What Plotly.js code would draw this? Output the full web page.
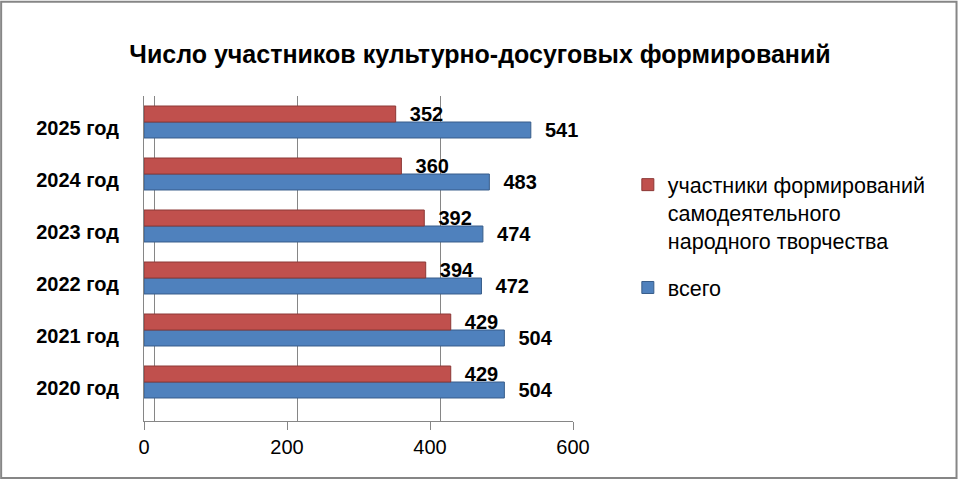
<!DOCTYPE html>
<html>
<head>
<meta charset="utf-8">
<script src="https://cdn.plot.ly/plotly-3.0.1.min.js"></script>
<style>
  body { margin: 0; background: #fff; }
  #chart { width: 960px; height: 480px; }
</style>
</head>
<body>
<div id="chart"></div>
<script>
// годы (снизу вверх)
var years = ['2020 год', '2021 год', '2022 год', '2023 год', '2024 год', '2025 год'];
// всего
var totalValues = [504, 504, 472, 474, 483, 541];
// участники формирований самодеятельного народного творчества
var amateurValues = [429, 429, 394, 392, 360, 352];
var xTicks = [0, 200, 400, 600];

var FONT = 'Liberation Sans, Arial, sans-serif';
var labelFont = {family: FONT, size: 20, color: '#000', weight: 'bold'};

var totalTrace = {
  type: 'bar',
  orientation: 'h',
  name: 'всего',
  legendgroup: 'total',
  legendrank: 2,
  y: years,
  x: totalValues,
  texttemplate: '  %{x}',
  textposition: 'outside',
  constraintext: 'none',
  textfont: labelFont,
  cliponaxis: false,
  marker: {color: '#4F81BD', line: {color: '#385D8A', width: 1}},
  hoverinfo: 'x+y'
};

var amateurTrace = {
  type: 'bar',
  orientation: 'h',
  name: 'участники формирований<br>самодеятельного<br>народного творчества',
  legendgroup: 'amateur',
  legendrank: 1,
  y: years,
  x: amateurValues,
  texttemplate: '  %{x}',
  textposition: 'outside',
  constraintext: 'none',
  textfont: labelFont,
  cliponaxis: false,
  marker: {color: '#C0504D', line: {color: '#8C3836', width: 1}},
  hoverinfo: 'x+y'
};

var layout = {
  width: 960,
  height: 480,
  margin: {l: 144, r: 387, t: 96, b: 59},
  paper_bgcolor: '#fff',
  plot_bgcolor: 'rgba(0,0,0,0)',
  barmode: 'group',
  bargap: 0.385,
  bargroupgap: 0,
  showlegend: true,
  title: {
    text: '<b>Число участников культурно-досуговых формирований</b>',
    font: {family: FONT, size: 25, color: '#000'},
    x: 0.5,
    xref: 'container',
    y: 0.888,
    yref: 'container',
    yanchor: 'middle'
  },
  xaxis: {
    range: [0, 600],
    tickvals: xTicks,
    ticks: 'outside',
    ticklen: 8,
    tickcolor: '#868686',
    showline: true,
    linecolor: '#868686',
    showgrid: false,
    zeroline: false,
    tickfont: {family: FONT, size: 20, color: '#000'},
    ticklabelstandoff: 0,
    fixedrange: true
  },
  // задняя стенка: сетка, сдвинутая вглубь
  xaxis2: {
    overlaying: 'x',
    side: 'top',
    range: [-15, 585],
    tickvals: xTicks,
    showticklabels: false,
    ticks: '',
    showline: false,
    showgrid: true,
    gridcolor: '#868686',
    gridwidth: 1,
    zeroline: false,
    fixedrange: true
  },
  yaxis: {
    type: 'category',
    range: [-0.75, 5.5],
    showline: true,
    linecolor: '#868686',
    showgrid: false,
    showticklabels: false,
    ticks: '',
    fixedrange: true
  },
  // подписи годов на передней плоскости (чуть ниже столбцов)
  yaxis2: {
    type: 'category',
    overlaying: 'y',
    side: 'left',
    categoryorder: 'array',
    categoryarray: years,
    range: [-0.635, 5.615],
    showline: false,
    showgrid: false,
    zeroline: false,
    ticks: '',
    ticklabelstandoff: 24,
    tickfont: {family: FONT, size: 20, color: '#000', weight: 'bold'},
    fixedrange: true
  },
  legend: {
    xref: 'container',
    yref: 'container',
    x: 0.654,
    y: 0.658,
    xanchor: 'left',
    yanchor: 'top',
    valign: 'top',
    traceorder: 'grouped',
    tracegroupgap: 16,
    font: {family: FONT, size: 21.5, color: '#000'},
    itemwidth: 30
  },
  shapes: [{
    type: 'rect',
    xref: 'paper', yref: 'paper',
    x0: -0.333, x1: 1.894, y0: -0.175, y1: 1.29,
    line: {color: '#868686', width: 2},
    fillcolor: 'rgba(0,0,0,0)'
  }]
};

// пустой след для задней сетки (x2) и подписей годов (y2)
var wallTrace = {
  type: 'scatter',
  mode: 'none',
  x: xTicks,
  y: years.slice(0, xTicks.length),
  xaxis: 'x2',
  yaxis: 'y2',
  showlegend: false,
  hoverinfo: 'skip'
};

Plotly.newPlot('chart', [wallTrace, totalTrace, amateurTrace], layout, {displayModeBar: false, staticPlot: true});
</script>
</body>
</html>
